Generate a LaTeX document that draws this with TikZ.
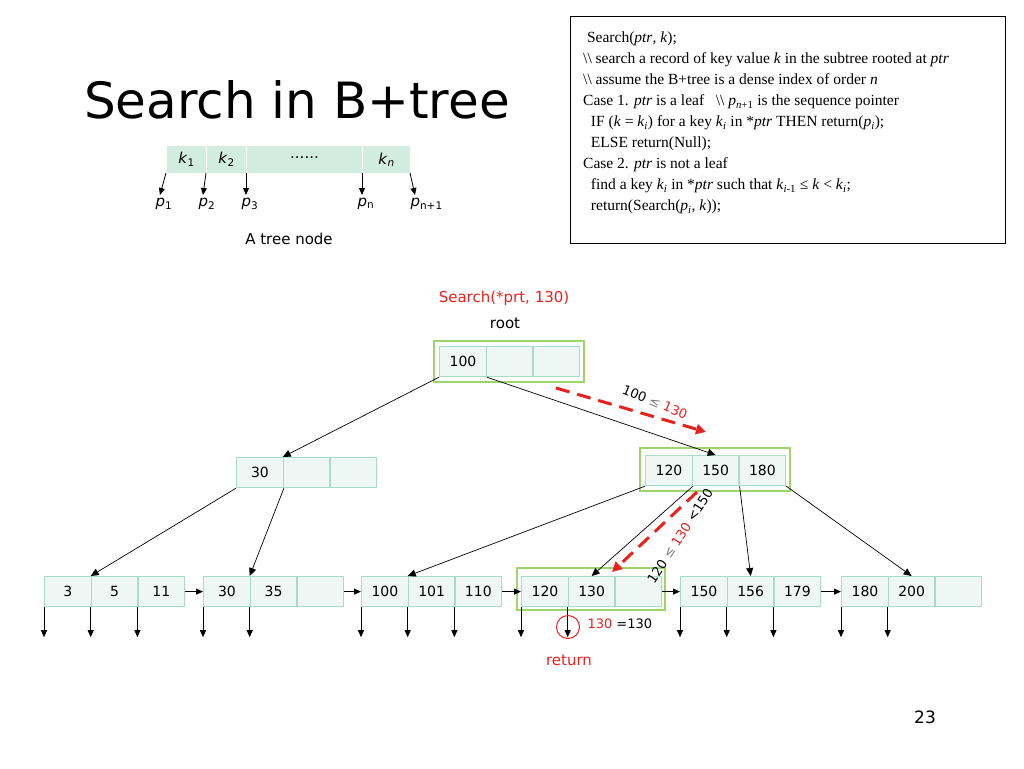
\documentclass[tikz,border=0pt]{standalone}
\usepackage{fontspec}
\setmainfont{DejaVu Sans}
\newfontfamily\serifbox{Liberation Serif}
\usetikzlibrary{arrows.meta}
\definecolor{cellfill}{HTML}{EEF7F3}
\definecolor{cellline}{HTML}{A8DCC8}
\definecolor{outg}{HTML}{9ED46A}
\definecolor{hdr}{HTML}{D2ECE2}
\definecolor{myred}{HTML}{E8201E}
\tikzset{
 cell/.style={draw=cellline,fill=cellfill,line width=1.2pt,minimum width=46.7pt,minimum height=30pt,inner sep=0pt,font=\fontsize{14}{14}\selectfont,anchor=north west},
 hcell/.style={fill=hdr,draw=white,line width=1pt,minimum height=28pt,inner sep=0pt,font=\fontsize{15}{15}\selectfont,anchor=north west},
 outer/.style={draw=outg,line width=1.3pt},
 ptr/.style={-{Triangle[length=7pt,width=6pt]},line width=0.8pt},
 edge/.style={-{Triangle[length=8pt,width=7pt]},line width=0.7pt},
 reddash/.style={myred,line width=3pt,dash pattern=on 14pt off 8pt,-{Triangle[length=10pt,width=10pt]}},
}
\newcommand{\iv}[1]{\textit{#1}}
\begin{document}
\begin{tikzpicture}[x=1pt,y=-1pt]
\useasboundingbox (0,0) rectangle (1024,768);
% title
\node (title) at (297,100) {\fontsize{50}{50}\selectfont Search in B+tree};
% header node
\node[hcell,minimum width=40pt] (k1) at (166,145) {\iv{k}\textsubscript{1}};
\node[hcell,minimum width=40pt] (k2) at (206,145) {\iv{k}\textsubscript{2}};
\node[hcell,minimum width=116pt] (kd) at (246,145) {\raisebox{3pt}{......}};
\node[hcell,minimum width=48pt] (kn) at (362,145) {\iv{k}\textsubscript{\iv{n}}};
\foreach \n/\xa/\xb/\lab in {p1/166/160/1,p2/206/203/2,p3/246/246/3,pn/362/362/n,pm/410/415/n+1}{
 \coordinate (\n s) at (\xa,173);
 \node[font=\fontsize{15}{15}\selectfont,anchor=west] (\n) at (\xb-8,204) {\iv{p}\textsubscript{\lab}};
 \draw[ptr] (\n s) -- (\xb,195);
}
\node[font=\fontsize{15}{15}\selectfont] (tn) at (289,239) {A tree node};
% text box
\node[draw,line width=1pt,minimum width=435pt,minimum height=227pt,anchor=north west] (box) at (570,16) {};
\node[anchor=north west,align=left,font=\serifbox\fontsize{15.5}{21}\selectfont,inner sep=0pt] (code) at (583,32) {%
\ Search(\iv{ptr}, \iv{k});\\
\textbackslash\textbackslash\ search a record of key value \iv{k} in the subtree rooted at \iv{ptr}\\
\textbackslash\textbackslash\ assume the B+tree is a dense index of order \iv{n}\\
Case 1. \iv{ptr} is a leaf \ \ \textbackslash\textbackslash\ \iv{p}\textsubscript{\iv{n}+1} is the sequence pointer\\
\ \ IF (\iv{k} = \iv{k}\textsubscript{\iv{i}}) for a key \iv{k}\textsubscript{\iv{i}} in *\iv{ptr} THEN return(\iv{p}\textsubscript{\iv{i}});\\
\ \ ELSE return(Null);\\
Case 2. \iv{ptr} is not a leaf\\
\ \ find a key \iv{k}\textsubscript{\iv{i}} in *\iv{ptr} such that \iv{k}\textsubscript{\iv{i}-1} ≤ \iv{k} < \iv{k}\textsubscript{\iv{i}};\\
\ \ return(Search(\iv{p}\textsubscript{\iv{i}}, \iv{k}));};
% labels
\node[myred,font=\fontsize{15}{15}\selectfont] (sl) at (504,298) {Search(*prt, 130)};
\node[font=\fontsize{15}{15}\selectfont] (rl) at (505,323) {root};
% tree nodes
\newcommand{\tnode}[6]{%
 \node[cell] (#1a) at (#2,#3) {#4};
 \node[cell] (#1b) at (#2+46.7,#3) {#5};
 \node[cell] (#1c) at (#2+93.4,#3) {#6};}
\draw[outer] (434,341) rectangle (584,382);
\tnode{r}{439}{346}{100}{}{}
\tnode{ml}{236}{457}{30}{}{}
\draw[outer] (640,448) rectangle (790,491);
\tnode{mr}{645}{455}{120}{150}{180}
\tnode{la}{44}{576}{3}{5}{11}
\tnode{lb}{203}{576}{30}{35}{}
\tnode{lc}{361}{576}{100}{101}{110}
\draw[outer] (517,568) rectangle (665,610);
\tnode{ld}{521}{576}{120}{130}{}
\tnode{le}{680}{576}{150}{156}{179}
\tnode{lf}{841}{576}{180}{200}{}
% sequence pointers
\foreach \a/\b in {la/lb,lb/lc,lc/ld,ld/le,le/lf}{\draw[ptr] (\a c.east) -- (\b a.west);}
% leaf data pointers
\foreach \l/\n in {la/3,lb/2,lc/3,ld/2,le/3,lf/2}{
 \draw[ptr] (\l a.south west) -- ++(0,30);
 \draw[ptr] (\l b.south west) -- ++(0,30);
 \ifnum\n=3 \draw[ptr] (\l c.south west) -- ++(0,30);\fi
}
% tree edges
\draw[edge] (ra.south west) -- (mlb.north west);
\draw[edge] (ra.south east) -- (mrb.north);
\draw[edge] (mla.south west) -- (lab.north west);
\draw[edge] (mla.south east) -- (lbb.north west);
\draw[edge] (mra.south west) -- (lcb.north west);
\draw[edge] (mra.south east) -- (ldb.north);
\draw[edge] (mrb.south east) -- (leb.north);
\draw[edge] (mrc.south east) -- (lfb.north);
% red
\coordinate (d1s) at (556,388); \coordinate (d1e) at (706,432);
\draw[reddash] (d1s) -- (d1e);
\coordinate (d2s) at (697,492); \coordinate (d2e) at (612,572);
\draw[reddash] (d2s) -- (d2e);
\node[rotate=-22,font=\fontsize{13}{13}\selectfont] (l1) at (655,402) {100 {\color{gray}≤} \textcolor{myred}{130}};
\node[rotate=57,font=\fontsize{13}{13}\selectfont] (l2) at (680,536) {120 {\color{gray}≤} \textcolor{myred}{130} <150};
\node[draw=myred,circle,line width=1pt,minimum size=23pt,inner sep=0pt] (circ) at (568,627) {};
\node[font=\fontsize{13}{13}\selectfont,anchor=west] (eq) at (584,624) {\textcolor{myred}{130} =130};
\node[myred,font=\fontsize{15}{15}\selectfont] (ret) at (569,660) {return};
\node[font=\fontsize{17}{17}\selectfont] (pg) at (925,717) {23};
\end{tikzpicture}
\end{document}
